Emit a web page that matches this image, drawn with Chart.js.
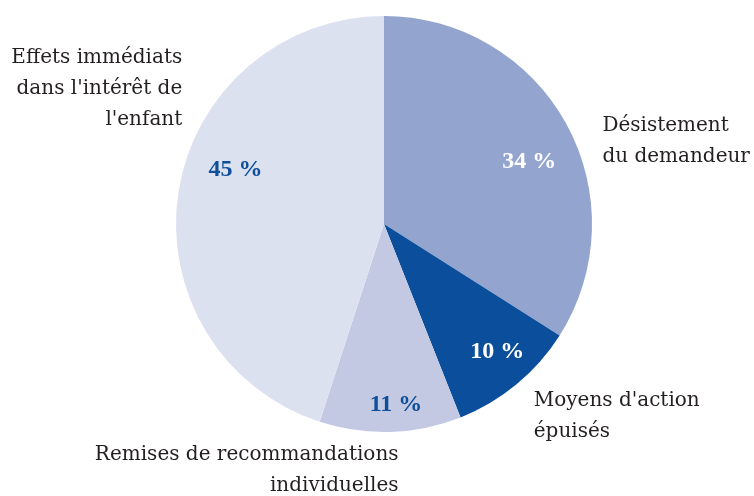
<!DOCTYPE html>
<html>
<head>
<meta charset="utf-8">
<script src="https://cdn.jsdelivr.net/npm/chart.js@4/dist/chart.umd.min.js"></script>
<style>
  html, body { margin: 0; padding: 0; background: #fff; }
  #wrap { width: 754px; height: 496px; }
</style>
</head>
<body>
<div id="wrap"><canvas id="myChart" width="754" height="496"></canvas></div>
<script>
// slices, clockwise from 12 o'clock
const categories = [
  ['Désistement', 'du demandeur'],
  ["Moyens d'action", 'épuisés'],
  ['Remises de recommandations', 'individuelles'],
  ['Effets immédiats', "dans l'intérêt de", "l'enfant"]
];
const values = [34, 10, 11, 45];
const sliceColors = ['#93a5cf', '#0b4f9c', '#c4c9e3', '#dce1f0'];
const pctColors = ['#ffffff', '#ffffff', '#0d4f9a', '#0d4f9a'];

// where the % text sits inside each slice: radius fraction, angle shift (deg)
const pctPlace = [[0.76, 5.5], [0.82, -2], [0.87, -2], [0.76, 11]];
// outer labels: offset from pie centre in radii, text alignment
const labelPlace = [
  [1.05, -0.47, 'left'],
  [0.72, 0.85, 'left'],
  [0.07, 1.11, 'right'],
  [-0.97, -0.80, 'right']
];

const labelsPlugin = {
  id: 'pieText',
  afterDatasetsDraw(chart) {
    const ctx = chart.ctx;
    const arcs = chart.getDatasetMeta(0).data;
    ctx.save();
    ctx.textBaseline = 'middle';
    arcs.forEach((arc, i) => {
      const r = arc.outerRadius;
      const mid = (arc.startAngle + arc.endAngle) / 2 + pctPlace[i][1] * Math.PI / 180;
      const x = arc.x + Math.cos(mid) * r * pctPlace[i][0];
      const y = arc.y + Math.sin(mid) * r * pctPlace[i][0];
      ctx.font = 'bold 24px "Liberation Serif", serif';
      ctx.fillStyle = pctColors[i];
      ctx.textAlign = 'center';
      ctx.fillText(values[i] + ' %', x, y);

      const lp = labelPlace[i];
      ctx.font = '20px "DejaVu Serif", serif';
      ctx.fillStyle = '#231f20';
      ctx.textAlign = lp[2];
      categories[i].forEach((line, k) => {
        ctx.fillText(line, arc.x + lp[0] * r, arc.y + lp[1] * r + k * 31);
      });
    });
    ctx.restore();
  }
};

const ctx = document.getElementById('myChart').getContext('2d');
const chart = new Chart(ctx, {
  type: 'pie',
  data: {
    labels: categories.map(c => c.join(' ')),
    datasets: [{
      data: values,
      backgroundColor: sliceColors,
      borderWidth: 0
    }]
  },
  options: {
    responsive: false,
    animation: false,
    layout: { padding: { top: 16, bottom: 64, left: 14, right: 0 } },
    plugins: {
      legend: { display: false },
      tooltip: { enabled: false }
    }
  },
  plugins: [labelsPlugin]
});
</script>
</body>
</html>
